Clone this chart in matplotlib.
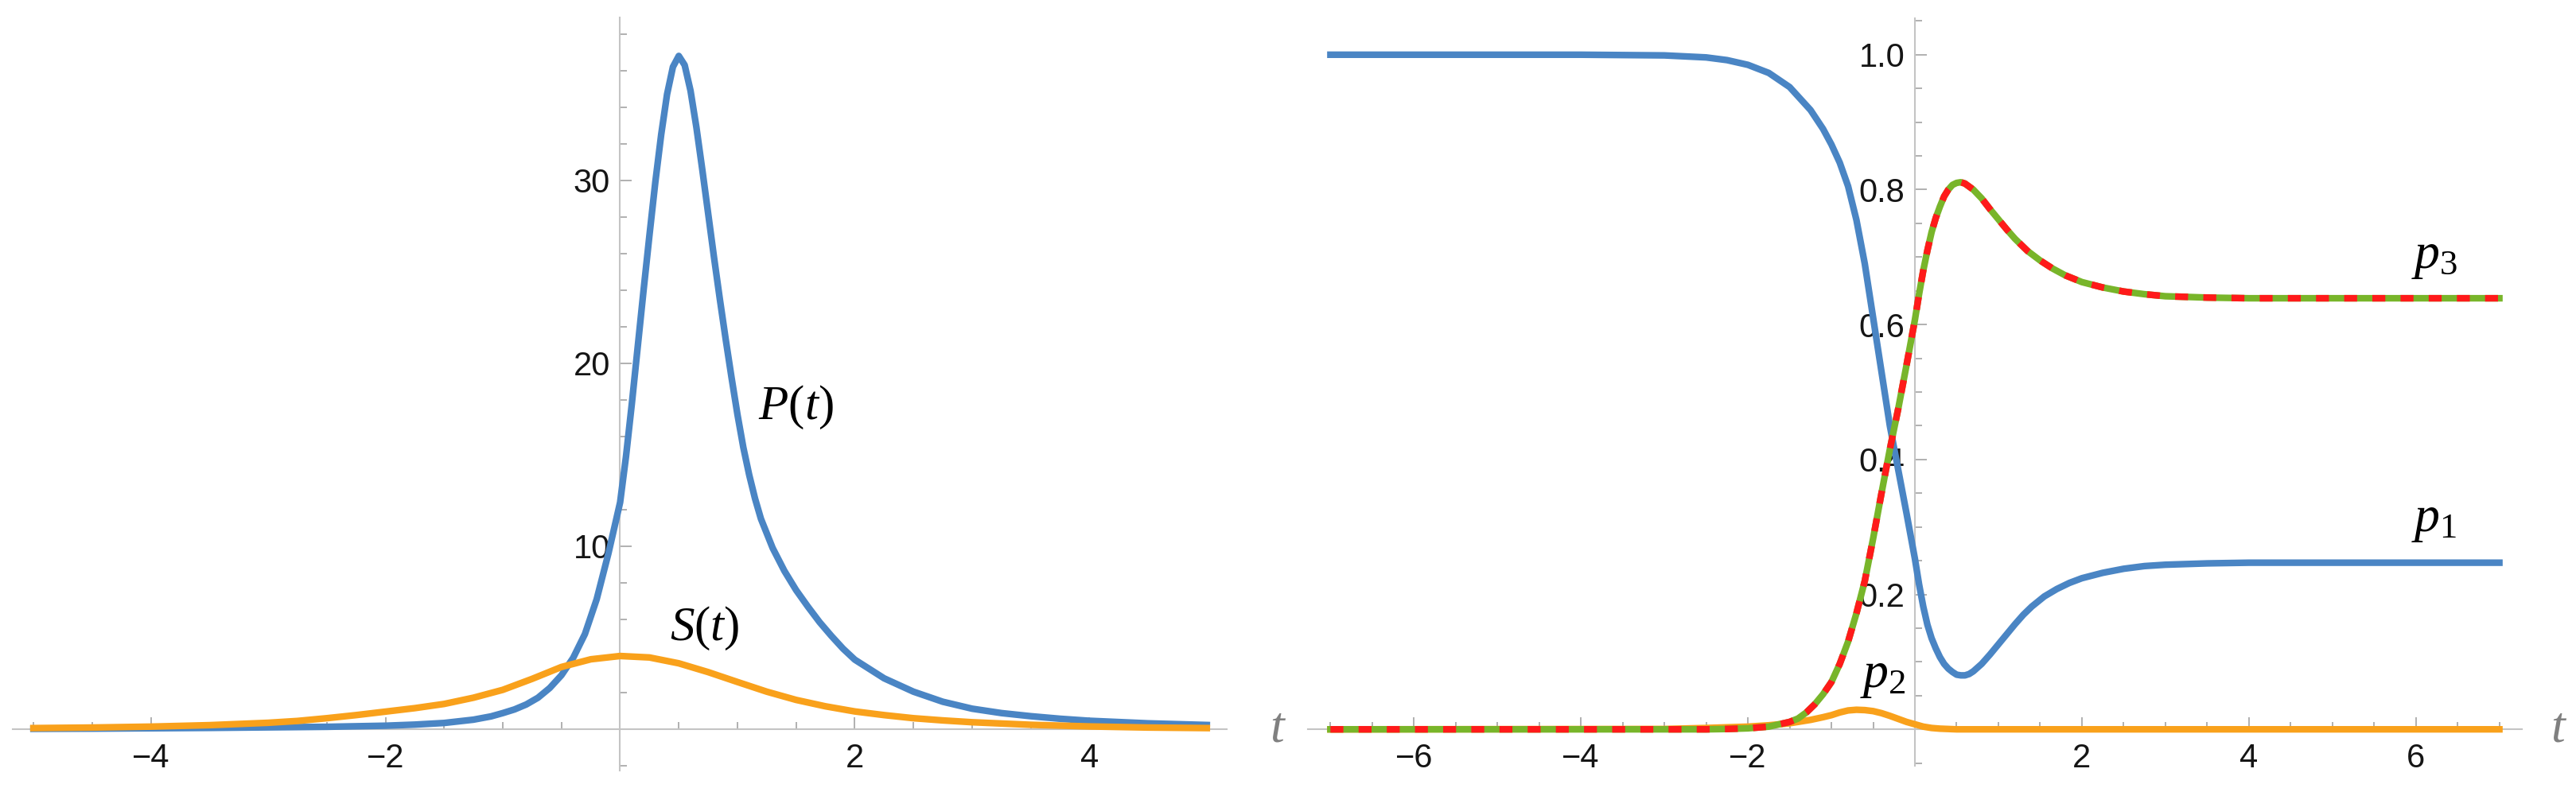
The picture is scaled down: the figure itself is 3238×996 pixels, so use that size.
import matplotlib
matplotlib.use('Agg')
import matplotlib.pyplot as plt
from matplotlib.ticker import MultipleLocator, FixedLocator, FormatStrFormatter

plt.rcParams['font.family'] = ['Liberation Sans', 'DejaVu Sans']
plt.rcParams['mathtext.fontset'] = 'custom'
plt.rcParams['mathtext.rm'] = 'Liberation Serif'
plt.rcParams['mathtext.it'] = 'Liberation Serif:italic'

# ---- left panel: P(t), S(t)
t_P = [-5.0, -4.5, -4.0, -3.5, -3.0, -2.5, -2.0, -1.75, -1.5, -1.25, -1.1, -1.0, -0.9, -0.8,
       -0.7, -0.6, -0.5, -0.4, -0.3, -0.2, -0.1, 0.0, 0.05, 0.1, 0.15, 0.2, 0.25, 0.3,
       0.35, 0.4, 0.45, 0.5, 0.55, 0.6, 0.65, 0.7, 0.75, 0.8, 0.85, 0.9, 0.95, 1.0,
       1.05, 1.1, 1.15, 1.2, 1.3, 1.4, 1.5, 1.6, 1.7, 1.8, 1.9, 2.0, 2.25, 2.5, 2.75,
       3.0, 3.25, 3.5, 3.75, 4.0, 4.5, 5.0]
P = [0.02, 0.03, 0.05, 0.07, 0.10, 0.13, 0.19, 0.25, 0.34, 0.52, 0.70, 0.88, 1.08, 1.35,
     1.72, 2.25, 2.95, 3.9, 5.2, 7.1, 9.6, 12.4, 14.9, 17.8, 20.9, 24.0, 27.0, 29.9,
     32.5, 34.7, 36.2, 36.8, 36.3, 34.9, 32.9, 30.6, 28.2, 25.8, 23.5, 21.3, 19.2, 17.2,
     15.4, 13.9, 12.6, 11.5, 9.9, 8.65, 7.6, 6.7, 5.85, 5.1, 4.4, 3.8, 2.78, 2.05, 1.5,
     1.12, 0.88, 0.71, 0.57, 0.46, 0.32, 0.23]

t_S = [-5.0, -4.5, -4.0, -3.5, -3.0, -2.75, -2.5, -2.25, -2.0, -1.75, -1.5, -1.25, -1.0,
       -0.75, -0.5, -0.25, 0.0, 0.25, 0.5, 0.75, 1.0, 1.25, 1.5, 1.75, 2.0, 2.25, 2.5,
       2.75, 3.0, 3.5, 4.0, 4.5, 5.0]
S = [0.06, 0.09, 0.14, 0.22, 0.35, 0.45, 0.6, 0.77, 0.96, 1.15, 1.38, 1.72, 2.15,
     2.75, 3.4, 3.82, 4.0, 3.92, 3.6, 3.12, 2.58, 2.05, 1.6, 1.25, 0.97, 0.77, 0.6,
     0.48, 0.38, 0.24, 0.15, 0.09, 0.06]

# ---- right panel: populations p1, p2, p3
t_p1 = [-7.0, -4.0, -3.0, -2.5, -2.25, -2.0, -1.75, -1.5, -1.25, -1.1, -1.0, -0.9, -0.8,
        -0.7, -0.6, -0.5, -0.4, -0.3, -0.2, -0.1, 0.0, 0.05, 0.1, 0.15, 0.2, 0.25, 0.3,
        0.35, 0.4, 0.45, 0.5, 0.55, 0.6, 0.65, 0.7, 0.8, 0.9, 1.0, 1.1, 1.2, 1.3, 1.4,
        1.55, 1.7, 1.85, 2.0, 2.25, 2.5, 2.75, 3.0, 3.5, 4.0, 7.0]
p1 = [1.0, 1.0, 0.999, 0.996, 0.992, 0.985, 0.973, 0.952, 0.918, 0.89, 0.867, 0.84, 0.805,
      0.755, 0.69, 0.61, 0.53, 0.45, 0.385, 0.32, 0.253, 0.215, 0.182, 0.155, 0.135, 0.12, 0.107,
      0.097, 0.09, 0.085, 0.081, 0.080, 0.080, 0.082, 0.086, 0.097, 0.111, 0.126, 0.141, 0.156, 0.17, 0.182,
      0.197, 0.208, 0.217, 0.224, 0.232, 0.238, 0.242, 0.244, 0.246, 0.247, 0.247]

t_p2 = [-7.0, -3.0, -2.5, -2.0, -1.75, -1.5, -1.25, -1.1, -1.0, -0.9, -0.8, -0.7, -0.6,
        -0.5, -0.4, -0.3, -0.2, -0.1, 0.0, 0.1, 0.2, 0.3, 0.5, 7.0]
p2 = [0.0, 0.0005, 0.002, 0.004, 0.006, 0.009, 0.014, 0.018, 0.021, 0.025, 0.028, 0.029, 0.0285,
      0.027, 0.024, 0.02, 0.0155, 0.011, 0.0075, 0.004, 0.002, 0.001, 0.0, 0.0]

t_p3 = [-7.0, -3.0, -2.5, -2.25, -2.0, -1.75, -1.5, -1.4, -1.3, -1.2, -1.1, -1.0, -0.9,
        -0.8, -0.7, -0.6, -0.5, -0.4, -0.3, -0.2, -0.1, 0.0, 0.05, 0.1, 0.15, 0.2, 0.25,
        0.3, 0.35, 0.4, 0.45, 0.5, 0.55, 0.6, 0.7, 0.8, 0.9, 1.0, 1.1, 1.2, 1.35, 1.5,
        1.65, 1.8, 2.0, 2.25, 2.5, 2.75, 3.0, 3.5, 4.0, 7.0]
p3 = [0.0, 0.0, 0.0, 0.0005, 0.0015, 0.004, 0.011, 0.016, 0.025, 0.037, 0.052, 0.07, 0.097,
      0.13, 0.172, 0.22, 0.283, 0.35, 0.415, 0.475, 0.54, 0.607, 0.645, 0.68, 0.71, 0.737, 0.758,
      0.775, 0.79, 0.80, 0.807, 0.81, 0.811, 0.809, 0.80, 0.787, 0.771, 0.756, 0.741, 0.727, 0.709, 0.695,
      0.683, 0.673, 0.663, 0.655, 0.649, 0.645, 0.642, 0.64, 0.639, 0.639]

blue = '#4a85c4'
orange = '#f9a11b'
red = '#ff1a1a'
green = '#78b52a'
axis_gray = '#c4c4c4'
tick_gray = '#b0b0b0'
LW = 6.0

fig = plt.figure(figsize=(32.38, 9.96), dpi=100)
W, H = 3238.0, 996.0
ax1 = fig.add_axes([15.5 / W, 27 / H, 1526.5 / W, 947 / H])
ax2 = fig.add_axes([1644 / W, 33 / H, 1526 / W, 940 / H])


def style_axes(ax):
    ax.patch.set_alpha(0)
    for s in ['top', 'right']:
        ax.spines[s].set_visible(False)
    for s in ['left', 'bottom']:
        ax.spines[s].set_position(('data', 0))
        ax.spines[s].set_color(axis_gray)
        ax.spines[s].set_linewidth(1.5)
    ax.tick_params(which='both', direction='in', color=tick_gray, width=1.4,
                   labelsize=30, labelcolor='#151515')
    ax.tick_params(which='major', length=11)
    ax.tick_params(which='minor', length=6.5)
    ax.tick_params(axis='y', pad=9)
    ax.tick_params(axis='x', pad=12)


# left panel
style_axes(ax1)
ax1.plot(t_P, P, color=blue, lw=LW, zorder=3, solid_joinstyle='round')
ax1.plot(t_S, S, color=orange, lw=LW, zorder=3, solid_joinstyle='round')
ax1.set_xlim(-5.18, 5.17)
ax1.set_ylim(-2.26, 38.9)
ax1.xaxis.set_major_locator(FixedLocator([-4, -2, 2, 4]))
ax1.xaxis.set_minor_locator(MultipleLocator(0.5))
ax1.yaxis.set_major_locator(FixedLocator([10, 20, 30]))
ax1.yaxis.set_minor_locator(MultipleLocator(2))
ax1.text(1.50, 17.6, r'$P(t)$', fontsize=44, ha='center', va='center')
ax1.text(0.72, 5.5, r'$S(t)$', fontsize=44, ha='center', va='center')
ax1.text(5.6, 0, 't', fontsize=46, color='#808080', family='Liberation Serif',
         style='italic', ha='center', va='center', clip_on=False)

# right panel
style_axes(ax2)
ax2.plot(t_p1, p1, color=blue, lw=LW, zorder=3, solid_joinstyle='round')
ax2.plot(t_p2, p2, color=orange, lw=LW, zorder=3, solid_joinstyle='round')
ax2.plot(t_p3, p3, color=green, lw=LW, zorder=3, solid_joinstyle='round')
ax2.plot(t_p3, p3, color=red, lw=LW, zorder=4, dashes=(1.95, 2.3))
ax2.set_xlim(-7.27, 7.27)
ax2.set_ylim(-0.054, 1.054)
ax2.xaxis.set_major_locator(FixedLocator([-6, -4, -2, 2, 4, 6]))
ax2.xaxis.set_minor_locator(MultipleLocator(0.5))
ax2.yaxis.set_major_locator(FixedLocator([0.2, 0.4, 0.6, 0.8, 1.0]))
ax2.yaxis.set_minor_locator(MultipleLocator(0.05))
ax2.yaxis.set_major_formatter(FormatStrFormatter('%.1f'))
ax2.text(6.22, 0.70, r'$p_3$', fontsize=46, ha='center', va='center')
ax2.text(6.22, 0.31, r'$p_1$', fontsize=46, ha='center', va='center')
ax2.text(-0.38, 0.079, r'$p_2$', fontsize=46, ha='center', va='center')
ax2.text(7.70, 0, 't', fontsize=46, color='#808080', family='Liberation Serif',
         style='italic', ha='center', va='center', clip_on=False)

fig.savefig('out.png', dpi=100)
